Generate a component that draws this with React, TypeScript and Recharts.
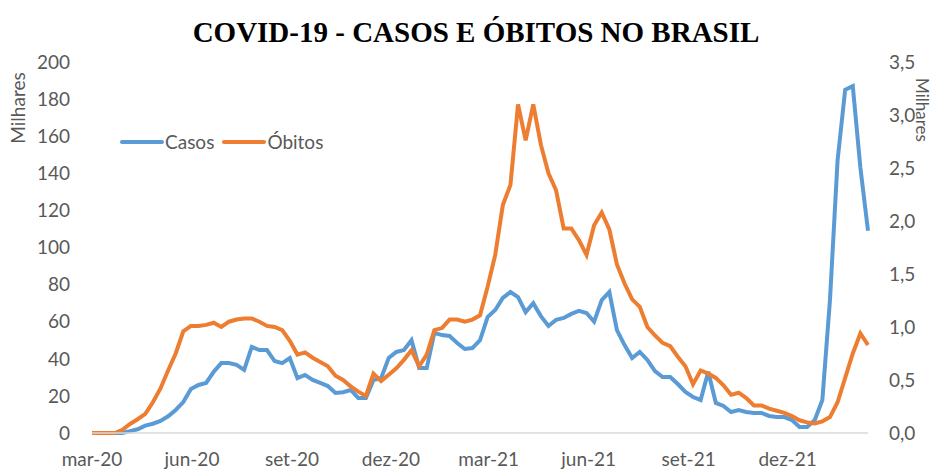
import { LineChart, Line, XAxis, YAxis, Legend } from 'recharts'

// weekly 7-day averages, thousands, starting 1 mar 2020
const casos = [
  0, 0, 0, 0, 0, 1, 2, 4, 5, 6.5, 9, 12.4, 16.7, 23.7, 25.9, 27, 33, 37.7, 37.7, 36.7,
  34, 46.4, 44.7, 44.7, 38.8, 37.7, 40.4, 29.6, 31.3, 28.6, 27, 25.3, 21.6, 22, 23.2, 18.9, 18.9, 28.6, 29.6, 40.4,
  43.7, 44.7, 50, 35, 35, 54, 52.8, 52.3, 48.5, 45.3, 45.8, 50, 62.5, 66.3, 72.8, 76, 73.3, 65.2, 70, 63,
  57.7, 61, 62, 64.2, 65.8, 64.7, 60, 71.7, 76, 55.5, 47.4, 40.4, 43.7, 39.4, 33.4, 30.2, 30.2, 26.4, 22.1, 19.4,
  17.8, 33, 16.2, 14.6, 11.3, 12.4, 11.3, 10.8, 10.8, 9.2, 8.6, 8.6, 7, 3.2, 3.2, 7, 17.8, 71.7, 147, 185,
  187, 143, 109,
]
const obitos = [
  0, 0, 0, 0, 0.03, 0.085, 0.13, 0.18, 0.29, 0.42, 0.59, 0.75, 0.96, 1.01, 1.01, 1.02, 1.04, 1.0, 1.05, 1.07,
  1.08, 1.08, 1.05, 1.01, 1.0, 0.97, 0.87, 0.74, 0.76, 0.71, 0.67, 0.63, 0.54, 0.5, 0.44, 0.39, 0.35, 0.56, 0.49, 0.55,
  0.61, 0.69, 0.78, 0.63, 0.74, 0.97, 0.99, 1.07, 1.07, 1.05, 1.07, 1.11, 1.38, 1.68, 2.15, 2.34, 3.1, 2.76, 3.1, 2.72,
  2.45, 2.29, 1.93, 1.93, 1.82, 1.68, 1.96, 2.08, 1.92, 1.59, 1.41, 1.26, 1.19, 1.0, 0.92, 0.85, 0.82, 0.72, 0.63, 0.46,
  0.59, 0.56, 0.52, 0.45, 0.36, 0.38, 0.33, 0.26, 0.26, 0.23, 0.21, 0.19, 0.16, 0.12, 0.1, 0.09, 0.11, 0.15, 0.29, 0.52,
  0.75, 0.94, 0.83,
]
const dias = casos.map((_, i) => i * 7)

const mesesTicks = [0, 92, 184, 275, 365, 457, 549, 640]
const mesesLabels = ['mar-20', 'jun-20', 'set-20', 'dez-20', 'mar-21', 'jun-21', 'set-21', 'dez-21']
const ticksCasos = [0, 20, 40, 60, 80, 100, 120, 140, 160, 180, 200]
const ticksObitos = [0, 0.5, 1, 1.5, 2, 2.5, 3, 3.5]

const data = dias.map((d, i) => ({ dia: d, casos: casos[i], obitos: obitos[i] }))

const AZUL = '#5B9BD5'
const LARANJA = '#ED7D31'
const CINZA = '#595959'
const FONTE = 'Lato, "Liberation Sans", sans-serif'

function LegendaCustom() {
  const item = (cor: string, nome: string) => (
    <div style={{ display: 'flex', alignItems: 'center', marginRight: 8 }}>
      <svg width={44} height={10}>
        <line x1={2} y1={5} x2={42} y2={5} stroke={cor} strokeWidth={4} strokeLinecap="round" />
      </svg>
      <span style={{ marginLeft: 1 }}>{nome}</span>
    </div>
  )
  return (
    <div style={{ display: 'flex', fontFamily: FONTE, fontSize: 19, color: CINZA }}>
      {item(AZUL, 'Casos')}
      {item(LARANJA, 'Óbitos')}
    </div>
  )
}

export default function App() {
  return (
    <div style={{ position: 'absolute', left: 0, top: 0, width: 935, height: 472, background: '#fff', overflow: 'hidden' }}>
      <LineChart width={935} height={472} data={data} margin={{ top: 62, right: 0, bottom: 0, left: 0 }}>
        <XAxis
          dataKey="dia"
          type="number"
          domain={[0, 714]}
          ticks={mesesTicks}
          tickFormatter={(v: number) => mesesLabels[mesesTicks.indexOf(v)] ?? ''}
          height={39}
          stroke="#D9D9D9"
          strokeWidth={1.5}
          tickLine={false}
          tickSize={6}
          tickMargin={14}
          tick={{ fill: CINZA, fontSize: 19, fontFamily: FONTE }}
          interval={0}
        />
        <YAxis
          yAxisId="casos"
          domain={[0, 200]}
          ticks={ticksCasos}
          width={92}
          axisLine={false}
          tickLine={false}
          tickSize={6}
          tickMargin={16}
          tick={{ fill: CINZA, fontSize: 19, fontFamily: FONTE }}
          interval={0}
        />
        <YAxis
          yAxisId="obitos"
          orientation="right"
          domain={[0, 3.5]}
          ticks={ticksObitos}
          tickFormatter={(v: number) => v.toFixed(1).replace('.', ',')}
          width={67}
          axisLine={false}
          tickLine={false}
          tickSize={6}
          tickMargin={15}
          tick={{ fill: CINZA, fontSize: 19, fontFamily: FONTE, textAnchor: 'start' }}
          interval={0}
        />
        <Legend
          layout="horizontal"
          verticalAlign="middle"
          align="center"
          content={() => <LegendaCustom />}
          wrapperStyle={{ left: 120, top: 130, width: 'auto' }}
        />
        <Line
          yAxisId="casos"
          type="linear"
          dataKey="casos"
          name="Casos"
          stroke={AZUL}
          strokeWidth={4}
          dot={false}
          isAnimationActive={false}
        />
        <Line
          yAxisId="obitos"
          type="linear"
          dataKey="obitos"
          name="Óbitos"
          stroke={LARANJA}
          strokeWidth={4}
          dot={false}
          isAnimationActive={false}
        />
      </LineChart>
      <svg width={935} height={472} style={{ position: 'absolute', left: 0, top: 0, pointerEvents: 'none' }}>
        <text
          x={476}
          y={42}
          textAnchor="middle"
          fontFamily='"Liberation Serif", "Times New Roman", serif'
          fontWeight="bold"
          fontSize={29}
          fill="#000"
        >
          COVID-19 - CASOS E ÓBITOS NO BRASIL
        </text>
        <text
          transform="translate(25,108) rotate(-90)"
          textAnchor="middle"
          fontFamily={FONTE}
          fontSize={19}
          fill={CINZA}
        >
          Milhares
        </text>
        <text
          transform="translate(916,110) rotate(90)"
          textAnchor="middle"
          fontFamily={FONTE}
          fontSize={17}
          fill={CINZA}
        >
          Milhares
        </text>
      </svg>
    </div>
  )
}
